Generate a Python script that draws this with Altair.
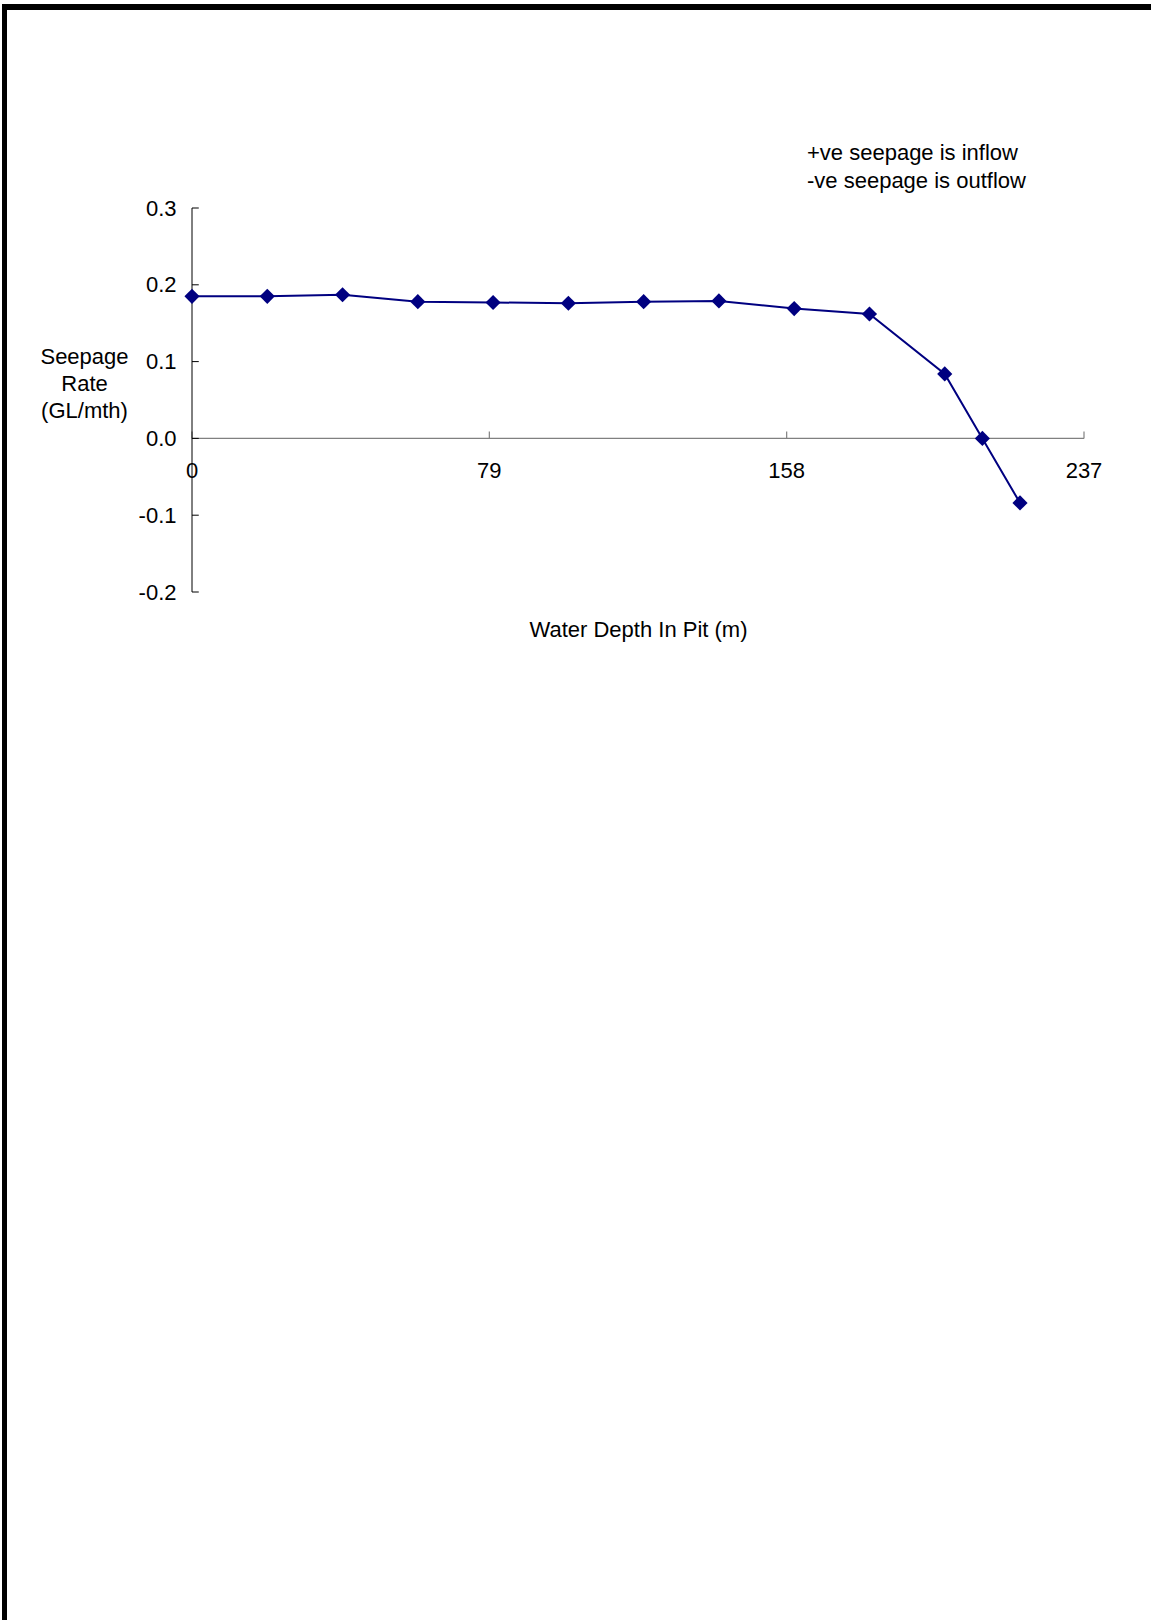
import altair as alt
import pandas as pd

# data
depth = [0, 20, 40, 60, 80, 100, 120, 140, 160, 180, 200, 210, 220]
seepage = [0.185, 0.185, 0.187, 0.178, 0.177, 0.176, 0.178, 0.179, 0.169, 0.162, 0.084, 0.0, -0.084]
x_ticks = [0, 79, 158, 237]
y_ticks = [-0.2, -0.1, 0.0, 0.1, 0.2, 0.3]
note_lines = ["+ve seepage is inflow", "-ve seepage is outflow"]
y_title = ["Seepage", "Rate", "(GL/mth)"]
x_title = "Water Depth In Pit (m)"

FONT = "Liberation Sans"
NAVY = "#000080"
W, H = 892, 384

df = pd.DataFrame({"depth": depth, "seepage": seepage})
xt = pd.DataFrame({"v": x_ticks})
yt = pd.DataFrame({"v": y_ticks})
one = pd.DataFrame({"k": [0]})

xs = alt.Scale(domain=[0, 237], nice=False, zero=False)
ys = alt.Scale(domain=[-0.2, 0.3], nice=False, zero=False)

x_axis = alt.Axis(labels=False, ticks=False, domain=False, grid=False,
                  title=x_title, titleFontSize=22, titleFont=FONT,
                  titleFontWeight="normal", titleColor="black", titlePadding=27)
y_axis = alt.Axis(values=y_ticks, ticks=False, domain=False, grid=False,
                  labelExpr="datum.value < 0 ? '-' + format(-datum.value, '.1f') : format(datum.value, '.1f')",
                  labelFontSize=22, labelFont=FONT, labelColor="black", labelPadding=16,
                  title=y_title, titleAngle=0, titleAlign="center", titleBaseline="alphabetic",
                  titleX=-108, titleY=155, titleFontSize=22, titleFont=FONT,
                  titleFontWeight="normal", titleColor="black", titleLineHeight=27)

line = alt.Chart(df).mark_line(color=NAVY, strokeWidth=2).encode(
    x=alt.X("depth:Q", scale=xs, axis=x_axis),
    y=alt.Y("seepage:Q", scale=ys, axis=y_axis),
)
pts = alt.Chart(df).mark_point(shape="diamond", filled=True, color=NAVY, size=230, opacity=1).encode(
    x=alt.X("depth:Q", scale=xs),
    y=alt.Y("seepage:Q", scale=ys),
)

# y axis line and inward ticks
y_dom = alt.Chart(one).mark_rule(color="black", strokeWidth=1).encode(
    x=alt.datum(0, scale=xs), y=alt.datum(0.3, scale=ys), y2=alt.datum(-0.2)
)
y_tk = alt.Chart(yt).mark_rule(color="black", strokeWidth=1).encode(
    x=alt.datum(0, scale=xs), x2=alt.datum(1.8), y=alt.Y("v:Q", scale=ys)
)
# x axis line at zero, inward ticks and labels
x_dom = alt.Chart(one).mark_rule(color="#808080", strokeWidth=1.2).encode(
    x=alt.datum(0, scale=xs), x2=alt.datum(237), y=alt.datum(0, scale=ys)
)
x_tk = alt.Chart(xt).mark_rule(color="#808080", strokeWidth=1.2).encode(
    x=alt.X("v:Q", scale=xs), y=alt.datum(0, scale=ys), y2=alt.datum(0.009)
)
x_lb = alt.Chart(xt).mark_text(fontSize=22, font=FONT, color="black", baseline="middle", dy=33).encode(
    x=alt.X("v:Q", scale=xs), y=alt.datum(0, scale=ys), text=alt.Text("v:Q")
)

note = alt.Chart(one).mark_text(text=note_lines, fontSize=22, font=FONT, color="black",
                                align="left", baseline="alphabetic", lineHeight=28).encode(
    x=alt.value(615), y=alt.value(-48)
)

# page border (top and left edges)
top_bar = alt.Chart(one).mark_rule(color="black", strokeWidth=6).encode(
    x=alt.value(-190), x2=alt.value(959), y=alt.value(-201)
)
left_bar = alt.Chart(one).mark_rule(color="black", strokeWidth=5).encode(
    x=alt.value(-187.5), y=alt.value(-204), y2=alt.value(1412)
)

chart = alt.layer(x_dom, x_tk, y_dom, y_tk, line, pts, x_lb, note, top_bar, left_bar).properties(
    width=W, height=H,
    padding={"left": 192, "top": 208, "right": 67, "bottom": 1028},
    autosize=alt.AutoSizeParams(type="none"),
    background="white",
).configure_view(stroke=None)

chart.save("out.html", embed_options={"renderer": "svg", "actions": False})
